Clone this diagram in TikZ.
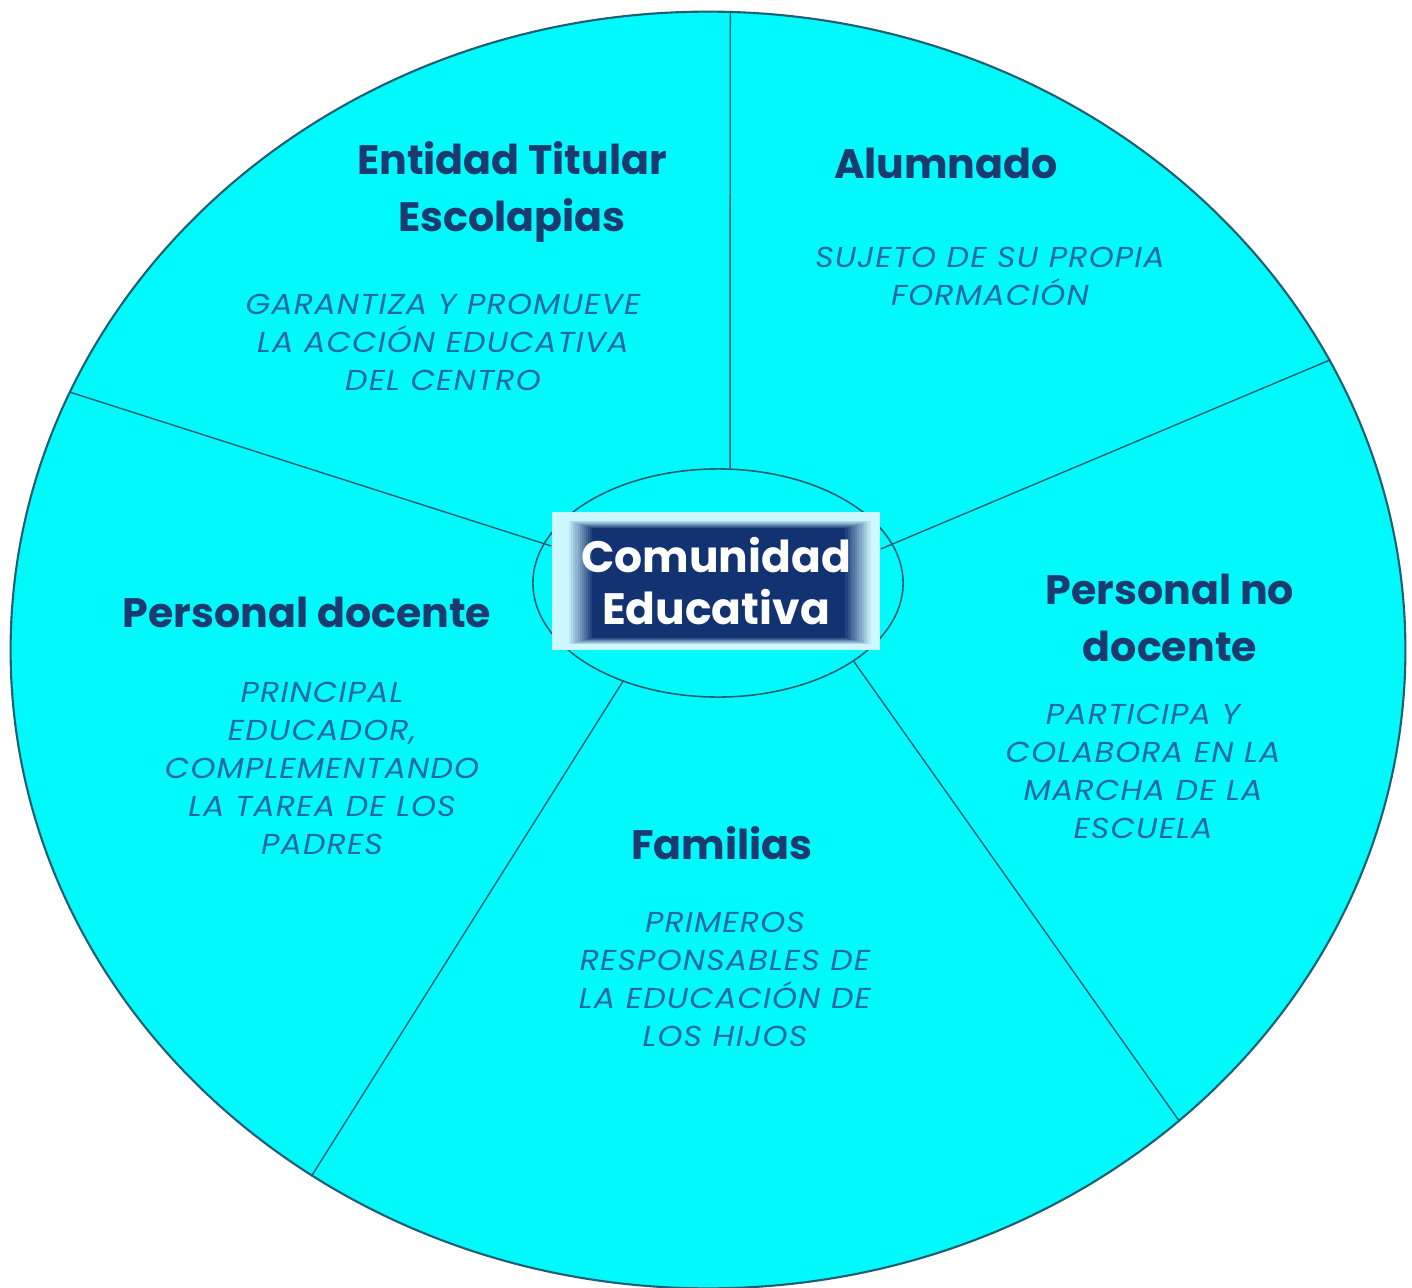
\documentclass[tikz,border=0pt]{standalone}
\usepackage{fontspec}
\setmainfont{Poppins}
\newfontfamily\descfont{Poppins}[FakeStretch=1.1,LetterSpace=4]
\usetikzlibrary{shapes.geometric}

\definecolor{wheelcyan}{RGB}{0,250,252}
\definecolor{linecolor}{RGB}{30,95,115}
\definecolor{titlenavy}{RGB}{27,58,112}
\definecolor{descblue}{RGB}{35,105,160}
\definecolor{boxnavy}{RGB}{11,42,107}
\definecolor{boxedge}{RGB}{205,248,255}

\begin{document}
\begin{tikzpicture}[x=0.01cm, y=-0.01cm,
    titulo/.style={text=titlenavy, font=\fontsize{11.7}{16.2}\selectfont\bfseries, align=center},
    texto/.style={text=descblue, font=\descfont\fontsize{8.2}{10.8}\selectfont\itshape, align=center},
    divisor/.style={draw=linecolor, line width=0.4pt}]
        \useasboundingbox (0,0) rectangle (1412,1288);
        % Draw the outer wheel
        \node[ellipse, draw=linecolor, line width=0.6pt, fill=wheelcyan, minimum width=13.94cm, minimum height=12.76cm, inner sep=0pt] (rueda) at (708,650) {};
        % Draw the inner ellipse
        \node[ellipse, draw=linecolor, line width=0.45pt, minimum width=3.7cm, minimum height=2.28cm, inner sep=0pt] (nucleo) at (718,583) {};
        % Central box (frame only, shading comes later)
        \node[rectangle, fill=boxedge, minimum width=3.28cm, minimum height=1.38cm, inner sep=0pt] (centro) at (716,581) {};
        % Draw the dividing lines
        \draw[divisor] (rueda.88) -- (nucleo.84);
        \draw[divisor] (rueda.158) -- (centro.168);
        \draw[divisor] (rueda.25) -- (centro.11);
        \draw[divisor] (rueda.233) -- (nucleo.226);
        \draw[divisor] (rueda.-45) -- (nucleo.-30);
        % Shaded frame of the central box
        \foreach \i [evaluate=\i as \p using int(\i*8)] in {0,...,12}
            \fill[boxnavy!\p!boxedge] ({567+2.1*\i},{520+0.7*\i}) rectangle ({873-2.3*\i},{645-0.6*\i});
        \node[text=white, font=\fontsize{12.5}{14.8}\selectfont\bfseries, align=center] (lema) at (centro) {Comunidad\\Educativa};
        % Titles and texts of each sector
        \node[titulo] (entidad) at (512,192) {Entidad Titular\\Escolapias};
        \node[texto] (entidadtxt) at (443,342) {GARANTIZA Y PROMUEVE\\LA ACCIÓN EDUCATIVA\\DEL CENTRO};
        \node[titulo] (alumnado) at (946,163) {Alumnado};
        \node[texto] (alumnadotxt) at (990,276) {SUJETO DE SU PROPIA\\FORMACIÓN};
        \node[titulo] (docente) at (307,612) {Personal docente};
        \node[texto] (docentetxt) at (322,768) {PRINCIPAL\\EDUCADOR,\\COMPLEMENTANDO\\LA TAREA DE LOS\\PADRES};
        \node[titulo] (nodocente) at (1170,618) {Personal no\\docente};
        \node[texto] (nodocentetxt) at (1143,771) {PARTICIPA Y\\COLABORA EN LA\\MARCHA DE LA\\ESCUELA};
        \node[titulo] (familias) at (722,843) {Familias};
        \node[texto] (familiastxt) at (725,979) {PRIMEROS\\RESPONSABLES DE\\LA EDUCACIÓN DE\\LOS HIJOS};
    \end{tikzpicture}
\end{document}
